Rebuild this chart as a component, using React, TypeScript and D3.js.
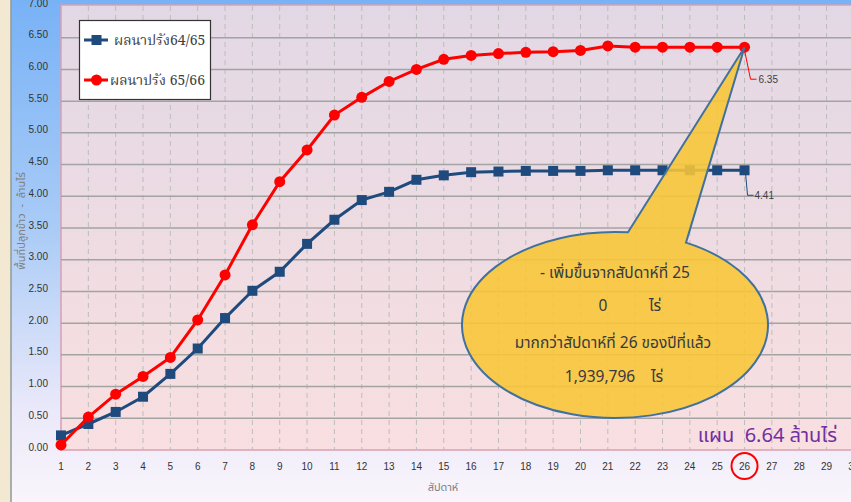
import React from "react";
import * as d3 from "d3";

const weeks = [1, 2, 3, 4, 5, 6, 7, 8, 9, 10, 11, 12, 13, 14, 15, 16, 17, 18, 19, 20, 21, 22, 23, 24, 25, 26];
const series6465 = [0.23, 0.41, 0.6, 0.84, 1.2, 1.6, 2.08, 2.51, 2.81, 3.25, 3.63, 3.94, 4.07, 4.26, 4.33, 4.38, 4.39, 4.4, 4.4, 4.4, 4.41, 4.41, 4.41, 4.41, 4.41, 4.41];
const series6566 = [0.08, 0.52, 0.88, 1.16, 1.46, 2.05, 2.76, 3.55, 4.23, 4.73, 5.28, 5.56, 5.81, 6.0, 6.16, 6.22, 6.25, 6.27, 6.28, 6.3, 6.37, 6.35, 6.35, 6.35, 6.35, 6.35];
const xTickValues = [1, 2, 3, 4, 5, 6, 7, 8, 9, 10, 11, 12, 13, 14, 15, 16, 17, 18, 19, 20, 21, 22, 23, 24, 25, 26, 27, 28, 29, 30];
const yTickValues = [0, 0.5, 1, 1.5, 2, 2.5, 3, 3.5, 4, 4.5, 5, 5.5, 6, 6.5, 7];
const legendLabels = ["ผลนาปรัง64/65", "ผลนาปรัง 65/66"];
const calloutLines = ["- เพิ่มขึ้นจากสัปดาห์ที่ 25", "มากกว่าสัปดาห์ที่ 26 ของปีที่แล้ว"];
const calloutValues = ["0", "1,939,796"];
const calloutUnit = "ไร่";
const planText = "แผน  6.64 ล้านไร่";
const yTitle = "พื้นที่ปลูกข้าว  -  ล้านไร่";
const xTitle = "สัปดาห์";
const highlightWeek = 26;

const W = 851;
const H = 502;
const plotLeft = 61;
const plotTop = 6;
const plotBottom = 450;

export default function App() {
  const x = d3.scaleLinear().domain([1, 30]).range([61, 853.9]);
  const y = d3.scaleLinear().domain([0, 7]).range([plotBottom, plotTop]);
  const blue = "#1f4a7e";
  const red = "#ff0000";

  const line = d3
    .line<number>()
    .x((_, i) => x(weeks[i]))
    .y((d) => y(d));

  const lastI = weeks.length - 1;
  const tipX = x(weeks[lastI]);
  const tipY = y(series6566[lastI]);

  const cx = 615, cy = 325, rx = 153, ry = 93;
  const ax = 628, bx = 686;
  const ay = cy - ry * Math.sqrt(1 - ((ax - cx) / rx) ** 2);
  const by = cy - ry * Math.sqrt(1 - ((bx - cx) / rx) ** 2);
  const calloutPath = `M${ax},${ay} A${rx},${ry} 0 1 0 ${bx},${by} L${tipX},${tipY} Z`;

  const thaiSans = "'Noto Sans Thai', 'Noto Sans', 'DejaVu Sans', sans-serif";
  const thaiSerif = "'Noto Serif Thai', 'Liberation Serif', serif";
  const tickFont = "'Liberation Sans', Arial, sans-serif";
  const pre = { whiteSpace: "pre" } as React.CSSProperties;

  const blueLastY = y(series6465[lastI]);

  return (
    <svg width={W} height={H} style={{ position: "fixed", left: 0, top: 0 }}>
      <defs>
        <linearGradient id="bgGrad" x1="0" y1="0" x2="0" y2="1">
          <stop offset="0" stopColor="#78b2f6" />
          <stop offset="0.45" stopColor="#a9cbf6" />
          <stop offset="0.82" stopColor="#ebe9fa" />
          <stop offset="1" stopColor="#faf5fb" />
        </linearGradient>
        <linearGradient id="plotGrad" x1="0" y1="0" x2="0" y2="1">
          <stop offset="0" stopColor="#e2d8e5" />
          <stop offset="1" stopColor="#f9dfe0" />
        </linearGradient>
      </defs>
      <rect x={0} y={0} width={11} height={H} fill="#f3e9d2" />
      <rect x={11} y={0} width={W - 11} height={H} fill="url(#bgGrad)" />
      <line x1={11} x2={11} y1={0} y2={H} stroke="#8d9a98" strokeWidth={1.5} />
      <rect x={plotLeft} y={plotTop - 1} width={W - plotLeft + 5} height={plotBottom - plotTop + 1} fill="url(#plotGrad)" stroke="#d9a0b2" strokeWidth={1.5} />

      {xTickValues.slice(1).map((t) => (
        <line key={"v" + t} x1={x(t)} x2={x(t)} y1={plotTop} y2={plotBottom} stroke="#bdbdbd" strokeWidth={1} strokeDasharray="5,4" />
      ))}
      {yTickValues.slice(1, -1).map((t) => (
        <line key={"h" + t} x1={plotLeft} x2={W} y1={y(t)} y2={y(t)} stroke="#a3a3a3" strokeWidth={1.5} />
      ))}

      {yTickValues.map((t) => (
        <text key={"yt" + t} x={48} y={y(t) - 2} textAnchor="end" dominantBaseline="middle" fontFamily={tickFont} fontSize={10} fill="#333">
          {t.toFixed(2)}
        </text>
      ))}
      {xTickValues.map((t) => (
        <text key={"xt" + t} x={x(t)} y={467} textAnchor="middle" dominantBaseline="middle" fontFamily={tickFont} fontSize={10} fill="#333">
          {t}
        </text>
      ))}

      <text transform={`translate(22,221) rotate(-90)`} textAnchor="middle" dominantBaseline="middle" fontFamily={thaiSans} fontSize={11} fill="#7f7f7f" style={pre}>
        {yTitle}
      </text>
      <text x={443} y={488} textAnchor="middle" dominantBaseline="middle" fontFamily={thaiSans} fontSize={11} fill="#7f7f7f">
        {xTitle}
      </text>

      <path d={line(series6465) || ""} fill="none" stroke={blue} strokeWidth={3} />
      {series6465.map((v, i) => (
        <rect key={"b" + i} x={x(weeks[i]) - 5} y={y(v) - 5} width={10} height={10} fill={blue} />
      ))}
      <path d={line(series6566) || ""} fill="none" stroke={red} strokeWidth={3} />
      {series6566.map((v, i) => (
        <circle key={"r" + i} cx={x(weeks[i])} cy={y(v)} r={5.5} fill={red} />
      ))}

      <polyline points={`${tipX},${tipY + 3} ${tipX + 6},${tipY + 32} ${tipX + 12},${tipY + 32}`} fill="none" stroke={red} strokeWidth={1} />
      <text x={tipX + 14} y={tipY + 33} dominantBaseline="middle" fontFamily={tickFont} fontSize={10} fill="#404040">
        {series6566[lastI].toFixed(2)}
      </text>
      <polyline points={`${tipX + 1},${blueLastY + 3} ${tipX + 3},${blueLastY + 25} ${tipX + 9},${blueLastY + 25}`} fill="none" stroke={blue} strokeWidth={1} />
      <text x={tipX + 10} y={blueLastY + 26} dominantBaseline="middle" fontFamily={tickFont} fontSize={10} fill="#404040">
        {series6465[lastI].toFixed(2)}
      </text>

      <path d={calloutPath} fill="#f8c636" fillOpacity={0.88} stroke="#41719c" strokeWidth={2} />
      <g fontFamily={thaiSans} fontSize={15.5} fill="#363a40" textAnchor="middle">
        <text x={615} y={278}>{calloutLines[0]}</text>
        <text x={603} y={311}>{calloutValues[0]}</text>
        <text x={655} y={311}>{calloutUnit}</text>
        <text x={613} y={348}>{calloutLines[1]}</text>
        <text x={600} y={382}>{calloutValues[1]}</text>
        <text x={657} y={382}>{calloutUnit}</text>
      </g>

      <text x={837} y={442} textAnchor="end" fontFamily={thaiSans} fontSize={20} fill="#7030a0" style={pre}>
        {planText}
      </text>
      <circle cx={x(highlightWeek)} cy={466} r={13} fill="none" stroke="#ff0000" strokeWidth={2} />

      <rect x={79.5} y={20.5} width={131} height={79} fill="#ffffff" stroke="#333" strokeWidth={1.2} />
      <line x1={84} x2={108} y1={40} y2={40} stroke={blue} strokeWidth={3} />
      <rect x={91.5} y={35} width={10} height={10} fill={blue} />
      <text x={114} y={45} fontFamily={thaiSerif} fontSize={14} fill="#404040">{legendLabels[0]}</text>
      <line x1={84} x2={108} y1={80} y2={80} stroke={red} strokeWidth={3} />
      <circle cx={96.5} cy={80} r={5.5} fill={red} />
      <text x={110} y={85} fontFamily={thaiSerif} fontSize={14} fill="#404040" style={pre}>{legendLabels[1]}</text>
    </svg>
  );
}
